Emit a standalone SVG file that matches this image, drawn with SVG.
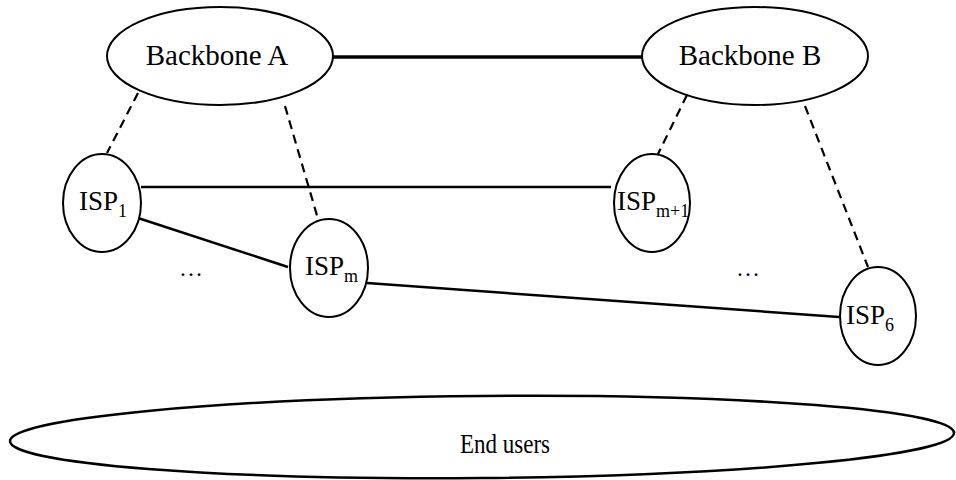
<svg xmlns="http://www.w3.org/2000/svg" width="956" height="480" viewBox="0 0 956 480">
<style>
.n{fill:#fff;stroke:#000;stroke-width:2}
.t{font-family:"Liberation Serif","Times New Roman",serif;fill:#000}
.c{stroke:#000;stroke-width:2.5;fill:none}
.d{stroke:#000;stroke-width:2.2;fill:none;stroke-dasharray:9 6}
</style>
<rect width="956" height="480" fill="#fff"/>
<g id="connectors">
<line class="c" x1="333" y1="57" x2="642" y2="57" style="stroke-width:3.5"/>
<line class="d" x1="138" y1="93" x2="107" y2="153"/>
<line class="d" x1="285" y1="106" x2="318" y2="219"/>
<line class="d" x1="687" y1="95" x2="658" y2="154"/>
<line class="d" x1="805" y1="106" x2="868" y2="267"/>
<line class="c" x1="141" y1="187" x2="611" y2="187"/>
<line class="c" x1="138" y1="218" x2="288" y2="267"/>
<line class="c" x1="367" y1="283" x2="839" y2="317"/>
</g>
<g id="backboneA">
<ellipse class="n" cx="220" cy="56" rx="113" ry="49"/>
<text class="t" x="217" y="65" font-size="29" text-anchor="middle">Backbone A</text>
</g>
<g id="backboneB">
<ellipse class="n" cx="755" cy="56" rx="113" ry="49"/>
<text class="t" x="750" y="65" font-size="29" text-anchor="middle">Backbone B</text>
</g>
<g id="isp1">
<ellipse class="n" cx="102" cy="203" rx="39" ry="49"/>
<text class="t" x="79" y="210" font-size="27">ISP<tspan font-size="18" dy="7">1</tspan></text>
</g>
<g id="ispm">
<ellipse class="n" cx="329" cy="268" rx="39" ry="49"/>
<text class="t" x="305" y="275" font-size="27">ISP<tspan font-size="18" dy="7">m</tspan></text>
</g>
<g id="ispm1">
<ellipse class="n" cx="652" cy="203" rx="38" ry="49"/>
<text class="t" x="617" y="210" font-size="27">ISP<tspan font-size="18" dy="7">m+1</tspan></text>
</g>
<g id="isp6">
<ellipse class="n" cx="878" cy="316" rx="38" ry="49"/>
<text class="t" x="846" y="324" font-size="27">ISP<tspan font-size="18" dy="7">6</tspan></text>
</g>
<g id="dots1"><text class="t" x="191" y="276" font-size="24" text-anchor="middle">…</text></g>
<g id="dots2"><text class="t" x="748" y="276" font-size="24" text-anchor="middle">…</text></g>
<g id="endusers">
<ellipse class="n" cx="482" cy="437" rx="472" ry="41" transform="rotate(-0.5 482 437)" style="stroke-width:2.5"/>
<text class="t" x="505" y="453" font-size="27" text-anchor="middle" textLength="90" lengthAdjust="spacingAndGlyphs">End users</text>
</g>
</svg>
